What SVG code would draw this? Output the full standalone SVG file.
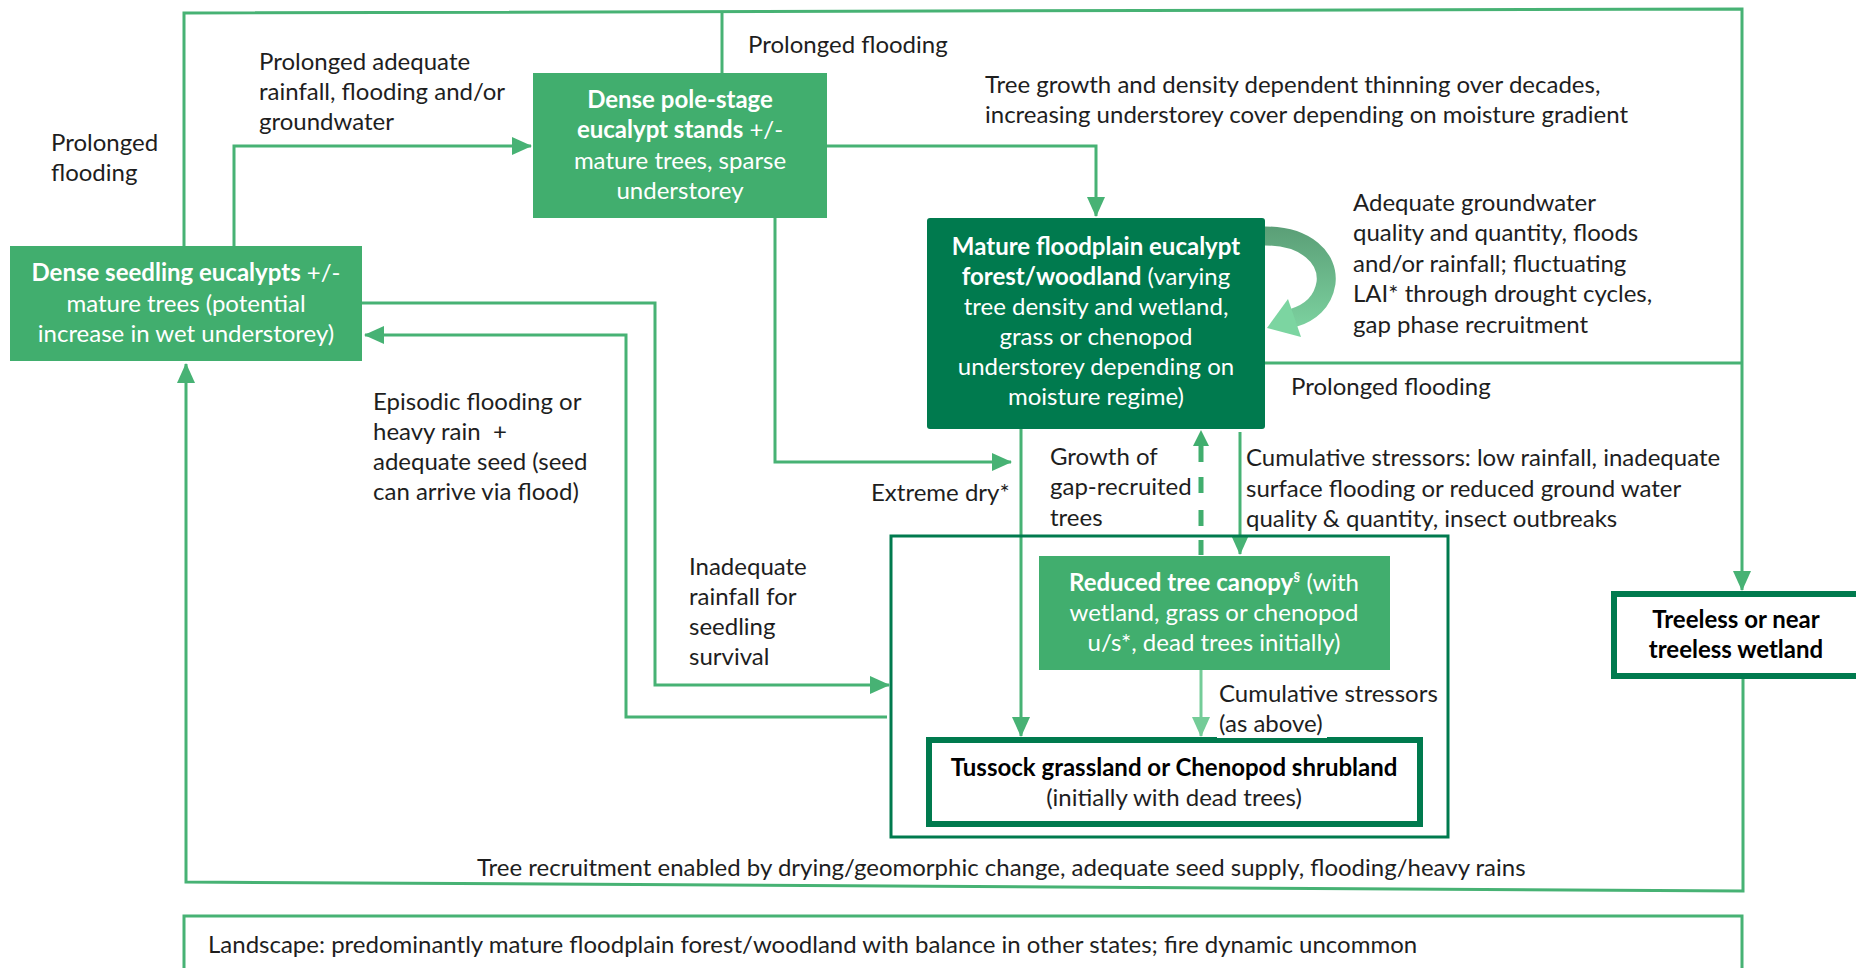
<svg xmlns="http://www.w3.org/2000/svg" width="1856" height="968" viewBox="0 0 1856 968">
<defs>
<style>
text{font-family:Lato,"Open Sans","Liberation Sans",sans-serif;font-size:24px;fill:#1e1e1e}
.w{fill:#ffffff}
.c{text-anchor:middle}
.b{font-weight:700}
.ln{fill:none;stroke:#47b274;stroke-width:3}
.lt{fill:none;stroke:#74cc98;stroke-width:3}
.box{fill:#41ae6e}
.dark{fill:#007a4e}
.frame{fill:#ffffff;stroke:#007a4e}
</style>
<marker id="ah" viewBox="0 0 20 20" refX="19" refY="10" markerWidth="20" markerHeight="20" markerUnits="userSpaceOnUse" orient="auto">
<path d="M0,1 L20,10 L0,19z" fill="#47b274"/>
</marker>
<marker id="ahl" viewBox="0 0 20 20" refX="19" refY="10" markerWidth="20" markerHeight="20" markerUnits="userSpaceOnUse" orient="auto">
<path d="M0,1 L20,10 L0,19z" fill="#74cc98"/>
</marker>
<linearGradient id="loop" x1="0" y1="225" x2="0" y2="340" gradientUnits="userSpaceOnUse">
<stop offset="0" stop-color="#5a9e76"/>
<stop offset="1" stop-color="#80d7a4"/>
</linearGradient>
</defs>
<rect width="1856" height="968" fill="#ffffff"/>

<!-- connectors -->
<g id="connectors">
<!-- outer loop along the top, down to the treeless wetland -->
<path class="ln" d="M184,246 V13 L1742,9 V590" marker-end="url(#ah)"/>
<path class="ln" d="M722,13 V73"/>
<path class="ln" d="M1265,363 H1742"/>
<!-- seedling to pole-stage -->
<path class="ln" d="M234,246 V146 H531" marker-end="url(#ah)"/>
<!-- pole-stage to mature -->
<path class="ln" d="M827,146 H1096 V216" marker-end="url(#ah)"/>
<!-- pole-stage, extreme dry -->
<path class="ln" d="M775,218 V462 H1011" marker-end="url(#ah)"/>
<!-- seedling to inadequate rainfall -->
<path class="ln" d="M362,303 H655 V685 H889" marker-end="url(#ah)"/>
<!-- episodic flooding back to seedling -->
<path class="ln" d="M887,717 H626 V335 H365" marker-end="url(#ah)"/>
<!-- treeless back round the bottom to seedling -->
<path class="ln" d="M1743,678 V891 L186,882 V364" marker-end="url(#ah)"/>
<!-- mature to tussock -->
<path class="ln" d="M1021,429 V736" marker-end="url(#ah)"/>
<!-- mature to reduced canopy -->
<path class="ln" d="M1240,432 V554" marker-end="url(#ah)"/>
<!-- reduced canopy to tussock -->
<path class="lt" d="M1201,670 V736" marker-end="url(#ahl)"/>
<!-- growth of gap-recruited trees (dashed, upward) -->
<path d="M1201,444 V555" fill="none" stroke="#41ae6e" stroke-width="5" stroke-dasharray="18 15 16 17 16 14 15"/>
<polygon points="1201,430 1193,446 1209,446" fill="#41ae6e"/>
<!-- self-maintaining loop on mature forest -->
<path d="M1265,236 C1306,236 1329,258 1326,283 C1323,302 1310,313 1293,318" fill="none" stroke="url(#loop)" stroke-width="19"/>
<polygon points="1267,328 1288,299 1301,337" fill="#7cd5a1"/>
</g>

<!-- connector labels -->
<g id="labels">
<text x="259" y="70">Prolonged adequate</text>
<text x="259" y="100">rainfall, flooding and/or</text>
<text x="259" y="130">groundwater</text>
<text x="51" y="151">Prolonged</text>
<text x="51" y="181">flooding</text>
<text x="748" y="53">Prolonged flooding</text>
<text x="985" y="93">Tree growth and density dependent thinning over decades,</text>
<text x="985" y="123">increasing understorey cover depending on moisture gradient</text>
<text x="1353" y="211">Adequate groundwater</text>
<text x="1353" y="241">quality and quantity, floods</text>
<text x="1353" y="272">and/or rainfall; fluctuating</text>
<text x="1353" y="302">LAI* through drought cycles,</text>
<text x="1353" y="333">gap phase recruitment</text>
<text x="1291" y="395">Prolonged flooding</text>
<text x="373" y="410">Episodic flooding or</text>
<text x="373" y="440">heavy rain&#160; +</text>
<text x="373" y="470">adequate seed (seed</text>
<text x="373" y="500">can arrive via flood)</text>
<text x="689" y="575">Inadequate</text>
<text x="689" y="605">rainfall for</text>
<text x="689" y="635">seedling</text>
<text x="689" y="665">survival</text>
<text x="871" y="501">Extreme dry*</text>
<text x="1050" y="465">Growth of</text>
<text x="1050" y="495">gap-recruited</text>
<text x="1050" y="526">trees</text>
<text x="1246" y="466">Cumulative stressors: low rainfall, inadequate</text>
<text x="1246" y="497">surface flooding or reduced ground water</text>
<text x="1246" y="527">quality &amp; quantity, insect outbreaks</text>
<text x="477" y="876">Tree recruitment enabled by drying/geomorphic change, adequate seed supply, flooding/heavy rains</text>
</g>

<!-- states -->
<g id="seedling">
<rect class="box" x="10" y="246" width="352" height="115"/>
<text class="w c" x="186" y="281"><tspan class="b">Dense seedling eucalypts</tspan> +/-</text>
<text class="w c" x="186" y="312">mature trees (potential</text>
<text class="w c" x="186" y="342">increase in wet understorey)</text>
</g>

<g id="pole-stage">
<rect class="box" x="533" y="73" width="294" height="145"/>
<text class="w c b" x="680" y="108">Dense pole-stage</text>
<text class="w c" x="680" y="138"><tspan class="b">eucalypt stands</tspan> +/-</text>
<text class="w c" x="680" y="169">mature trees, sparse</text>
<text class="w c" x="680" y="199">understorey</text>
</g>

<g id="mature">
<rect class="dark" x="927" y="218" width="338" height="211" rx="3"/>
<text class="w c b" x="1096" y="255">Mature floodplain eucalypt</text>
<text class="w c" x="1096" y="285"><tspan class="b">forest/woodland</tspan> (varying</text>
<text class="w c" x="1096" y="315">tree density and wetland,</text>
<text class="w c" x="1096" y="345">grass or chenopod</text>
<text class="w c" x="1096" y="375">understorey depending on</text>
<text class="w c" x="1096" y="405">moisture regime)</text>
</g>

<g id="degraded-states">
<rect x="891" y="536" width="557" height="301" fill="none" stroke="#007a4e" stroke-width="3"/>
</g>

<g id="reduced-canopy">
<rect class="box" x="1039" y="556" width="351" height="114"/>
<text class="w c" x="1214" y="591"><tspan class="b">Reduced tree canopy</tspan><tspan class="b" font-size="14" dy="-9">§</tspan><tspan dy="9"> (with</tspan></text>
<text class="w c" x="1214" y="621">wetland, grass or chenopod</text>
<text class="w c" x="1214" y="651">u/s*, dead trees initially)</text>
</g>

<g id="tussock">
<rect class="frame" x="929" y="740" width="491" height="84" stroke-width="6"/>
<text class="c b" x="1174" y="776" style="fill:#000">Tussock grassland or Chenopod shrubland</text>
<text class="c" x="1174" y="806">(initially with dead trees)</text>
</g>

<g id="stressor-note">
<rect x="1217" y="681" width="110" height="57" fill="#ffffff"/>
<text x="1219" y="702">Cumulative stressors</text>
<text x="1219" y="732">(as above)</text>
</g>

<g id="treeless">
<rect class="frame" x="1614" y="594" width="246" height="82" stroke-width="6"/>
<text class="c b" x="1736" y="628" style="fill:#000">Treeless or near</text>
<text class="c b" x="1736" y="658" style="fill:#000">treeless wetland</text>
</g>

<g id="landscape">
<rect x="184" y="916" width="1558" height="80" fill="#ffffff" stroke="#47b274" stroke-width="3"/>
<text x="208" y="953">Landscape: predominantly mature floodplain forest/woodland with balance in other states; fire dynamic uncommon</text>
</g>
</svg>
